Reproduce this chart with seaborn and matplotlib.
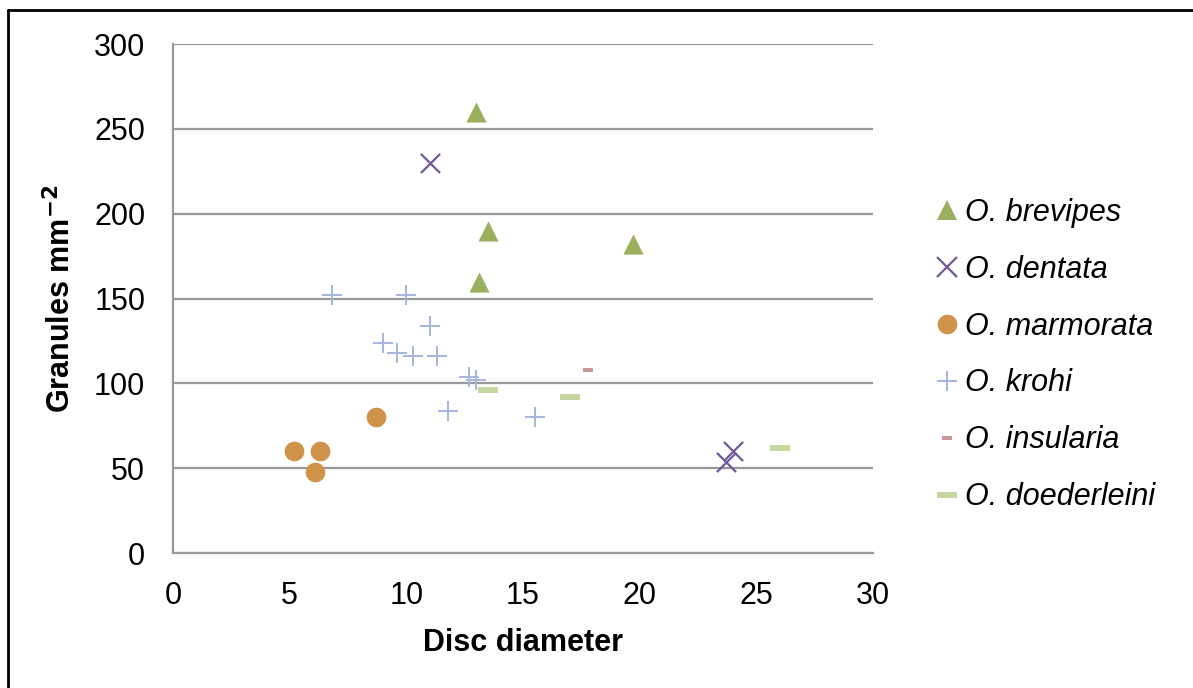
import matplotlib
matplotlib.use('Agg')
import matplotlib.pyplot as plt
import seaborn as sns
import pandas as pd
from matplotlib.lines import Line2D

# species data
brevipes_x = [13.0, 13.5, 13.1, 19.7]
brevipes_y = [260, 190, 160, 182]
dentata_x = [11.0, 23.7, 24.0]
dentata_y = [230, 54, 60]
marmorata_x = [5.2, 6.3, 6.1, 8.7]
marmorata_y = [60, 60, 48, 80]
krohi_x = [6.8, 10.0, 11.0, 9.0, 9.6, 10.3, 11.3, 12.7, 13.0, 11.8, 15.5]
krohi_y = [152, 152, 134, 124, 118, 116, 116, 104, 102, 84, 80]
insularia_x = [17.8]
insularia_y = [108]
doederleini_x = [13.5, 17.0, 26.0]
doederleini_y = [96, 92, 62]

bar_long = [(-1, -0.27), (1, -0.27), (1, 0.27), (-1, 0.27)]
bar_short = [(-1, -0.45), (1, -0.45), (1, 0.45), (-1, 0.45)]

series = [
    ('O. brevipes', brevipes_x, brevipes_y, '^', '#9BB05E', 210, 0),
    ('O. dentata', dentata_x, dentata_y, 'x', '#6F5A9B', 190, 1.6),
    ('O. marmorata', marmorata_x, marmorata_y, 'o', '#D09148', 200, 0),
    ('O. krohi', krohi_x, krohi_y, '+', '#A4B4DC', 190, 1.4),
    ('O. insularia', insularia_x, insularia_y, bar_short, '#C9959A', 60, 0),
    ('O. doederleini', doederleini_x, doederleini_y, bar_long, '#C5D6A0', 210, 0),
]

sns.set_theme(style='white')
plt.rcParams['font.family'] = ['Liberation Sans', 'DejaVu Sans']
plt.rcParams['text.color'] = 'black'
plt.rcParams['axes.labelcolor'] = 'black'

fig = plt.figure(figsize=(11.93, 6.88), dpi=100)
ax = fig.add_axes([0.145, 0.196, 0.5868, 0.740])

for name, xs, ys, mk, col, size, lw in series:
    df = pd.DataFrame({'x': xs, 'y': ys})
    sns.scatterplot(data=df, x='x', y='y', marker=mk, color=col, s=size,
                    linewidth=lw, ax=ax, label=name, zorder=3)

ax.set_xlim(0, 30)
ax.set_ylim(0, 300)
ax.set_xticks([0, 5, 10, 15, 20, 25, 30])
ax.set_yticks([0, 50, 100, 150, 200, 250, 300])
ax.grid(axis='y', color='#999999', linewidth=1.6)
ax.grid(axis='x', visible=False)
ax.set_axisbelow(True)
for s in ['top', 'right']:
    ax.spines[s].set_visible(False)
for s in ['left', 'bottom']:
    ax.spines[s].set_color('#999999')
    ax.spines[s].set_linewidth(1.6)
ax.tick_params(axis='both', length=0, labelsize=22, colors='black')
ax.tick_params(axis='y', pad=20)
ax.tick_params(axis='x', pad=20)

ax.set_xlabel('Disc diameter', fontsize=22, fontweight='bold', labelpad=12)
ax.set_ylabel(r'Granules mm$^{\mathbf{-2}}$', fontsize=22, fontweight='bold', labelpad=12)

handles = []
for name, xs, ys, mk, col, size, lw in series:
    handles.append(Line2D([], [], linestyle='', marker=mk, markersize=size ** 0.5,
                          color=col, markeredgewidth=lw))
ax.legend(handles, [s[0] for s in series], loc='center left',
          bbox_to_anchor=(0.755, 0.484), bbox_transform=fig.transFigure,
          frameon=False, prop={'size': 22, 'style': 'italic'},
          labelspacing=0.88, handletextpad=0.0, handlelength=1.2)

fig.add_artist(Line2D([8 / 1193, 8 / 1193], [0, 1 - 10 / 688], color='black', linewidth=2))
fig.add_artist(Line2D([8 / 1193, 1], [1 - 10 / 688, 1 - 10 / 688], color='black', linewidth=2))

fig.savefig('out.png', dpi=100)
